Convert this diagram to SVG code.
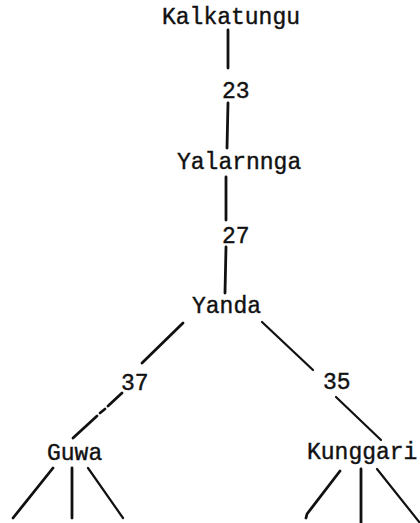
<svg xmlns="http://www.w3.org/2000/svg" width="420" height="523" viewBox="0 0 420 523">
  <style>
    .lbl { font-family: "Liberation Mono", "DejaVu Sans Mono", monospace; font-size: 23px; fill: #111; stroke: #111; stroke-width: 0.4; }
    .edge { stroke: #111; stroke-width: 2.8; stroke-linecap: round; fill: none; }
    .thin { stroke-width: 2.2; }
  </style>
  <rect width="420" height="523" fill="#fff"/>

  <!-- connectors -->
  <g id="connectors">
    <line class="edge" x1="228" y1="30" x2="228" y2="68"/>
    <line class="edge" x1="228" y1="103" x2="227" y2="148"/>
    <line class="edge" x1="226" y1="177" x2="226" y2="220"/>
    <line class="edge" x1="226" y1="247" x2="225" y2="293"/>
    <line class="edge" x1="183" y1="323" x2="142" y2="363"/>
    <path class="edge" d="M122 393 L108 406 M105 409 L100 413 M97 416 L73 438"/>
    <line class="edge thin" x1="262" y1="322" x2="313" y2="370"/>
    <line class="edge thin" x1="336" y1="397" x2="381" y2="440"/>
    <line class="edge" x1="53" y1="468" x2="13" y2="518"/>
    <line class="edge" x1="72" y1="468" x2="72" y2="518"/>
    <line class="edge thin" x1="88" y1="468" x2="123" y2="518"/>
    <path class="edge" d="M340 471 L307 514 L306 518"/>
    <line class="edge" x1="361" y1="469" x2="361" y2="523"/>
    <line class="edge thin" x1="377" y1="469" x2="420" y2="523"/>
  </g>

  <!-- nodes -->
  <g id="kalkatungu"><text class="lbl" x="162" y="24">Kalkatungu</text></g>
  <g id="w23"><text class="lbl" x="222" y="98">23</text></g>
  <g id="yalarnnga"><text class="lbl" x="177" y="169">Yalarnnga</text></g>
  <g id="w27"><text class="lbl" x="222" y="243">27</text></g>
  <g id="yanda"><text class="lbl" x="192" y="313">Yanda</text></g>
  <g id="w37"><text class="lbl" x="121" y="390">37</text></g>
  <g id="w35"><text class="lbl" x="323" y="389">35</text></g>
  <g id="guwa"><text class="lbl" x="47" y="460">Guwa</text></g>
  <g id="kunggari"><text class="lbl" x="307" y="459">Kunggari</text></g>
</svg>
